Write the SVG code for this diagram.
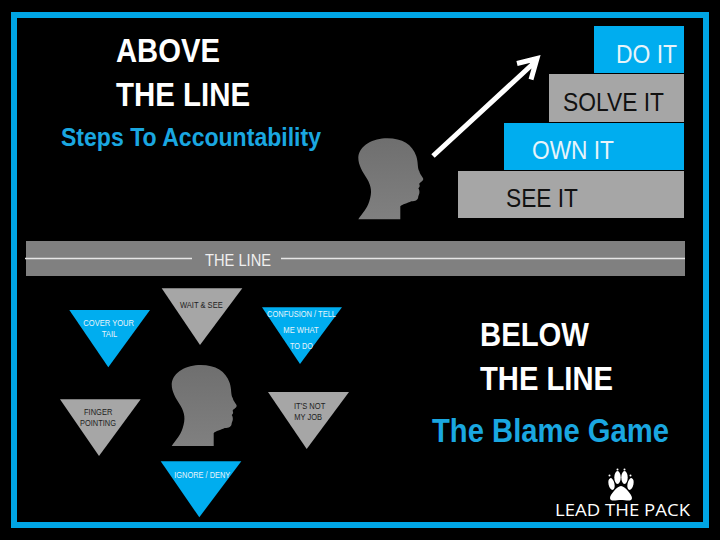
<svg xmlns="http://www.w3.org/2000/svg" width="720" height="540" viewBox="0 0 720 540">
<style>
text{font-family:"Liberation Sans",Arial,sans-serif}
.h{font-weight:700;font-size:33px;fill:#fff}
.s{font-size:26px}
.t{font-size:9px}
.blue{fill:#00adef}.gray{fill:#a6a6a6}
.w{fill:#e8f4fa}.k{fill:#111}.d{fill:#222}
.wire{stroke:#e6e6e6;stroke-width:1.5;fill:none}
</style>
<defs>
<linearGradient id="hg" x1="0" y1="0" x2="0" y2="1"><stop offset="0" stop-color="#6f6f6f"/><stop offset="1" stop-color="#808080"/></linearGradient>
<path id="head" fill="url(#hg)" d="M0 81C4 75 9 70 11 63C14 54 13 48 9 41C4 33 0 27 0 19C1 7 15 0 29 0C44 0 54 6 58 18C60 24 59 30 61 33C62 37 65 39 65 41C64 44 61 44 61 46C62 48 61 49 60 50C62 53 61 56 60 58C60 62 57 63 53 63C49 65 44 66 42 68C42 72 42 77 42 81Z"/>
</defs>
<rect width="720" height="540" fill="#000"/>
<rect x="14" y="15" width="692" height="510" fill="none" stroke="#00a6e6" stroke-width="6"/>

<g id="title-above">
<text class="h" x="116" y="62" textLength="104" lengthAdjust="spacingAndGlyphs">ABOVE</text>
<text class="h" x="116" y="106" textLength="134" lengthAdjust="spacingAndGlyphs">THE LINE</text>
<text x="61" y="146" font-size="25" font-weight="700" fill="#1aa7e0" textLength="260" lengthAdjust="spacingAndGlyphs">Steps To Accountability</text>
</g>
<g id="step-see"><rect class="gray" x="458" y="171" width="226" height="47"/><text class="s k" x="506" y="207" textLength="72" lengthAdjust="spacingAndGlyphs">SEE IT</text></g>
<g id="step-own"><rect class="blue" x="504" y="123" width="180" height="47"/><text class="s w" x="532" y="158.500" textLength="82" lengthAdjust="spacingAndGlyphs">OWN IT</text></g>
<g id="step-solve"><rect class="gray" x="549" y="74" width="135" height="48"/><text class="s k" x="563" y="111" textLength="101" lengthAdjust="spacingAndGlyphs">SOLVE IT</text></g>
<g id="step-do"><rect class="blue" x="594" y="26" width="90" height="47"/><text class="s w" x="616" y="62.500" textLength="61" lengthAdjust="spacingAndGlyphs">DO IT</text></g>
<g id="head-top"><use href="#head" x="358.3" y="138.3"/></g>
<g id="connectors">
<path d="M433 156L536 61M517 63.500L537 58.500L531 79.500" fill="none" stroke="#fff" stroke-width="5"/>
</g>
<g id="the-line">
<rect x="26" y="241" width="659" height="35" fill="#808080"/>
<path class="wire" d="M25 258.500H192M281 258.500H685"/>
<text x="205" y="265.500" font-size="16" fill="#f0f0f0" textLength="66" lengthAdjust="spacingAndGlyphs">THE LINE</text>
</g>
<g id="tri-cover"><path class="blue" d="M69.300 310H150L108.300 367.300Z"/><text class="t w" x="83.300" y="326.300" textLength="50.700" lengthAdjust="spacingAndGlyphs">COVER YOUR</text><text class="t w" x="101.700" y="336.700" textLength="15.600" lengthAdjust="spacingAndGlyphs">TAIL</text></g>
<g id="tri-wait"><path class="gray" d="M161.700 288.300H242.300L200 345Z"/><text class="t d" x="180" y="308" textLength="42.700" lengthAdjust="spacingAndGlyphs">WAIT &amp; SEE</text></g>
<g id="tri-confusion"><path class="blue" d="M262 307.300H342L300 364Z"/><text class="t w" x="267" y="317" textLength="69" lengthAdjust="spacingAndGlyphs">CONFUSION / TELL</text><text class="t w" x="283.300" y="333" textLength="35.400" lengthAdjust="spacingAndGlyphs">ME WHAT</text><text class="t w" x="290" y="349" textLength="23" lengthAdjust="spacingAndGlyphs">TO DO</text></g>
<g id="tri-finger"><path class="gray" d="M60 399.300H140.700L99 456Z"/><text class="t d" x="84" y="415" textLength="28.300" lengthAdjust="spacingAndGlyphs">FINGER</text><text class="t d" x="80" y="426" textLength="36" lengthAdjust="spacingAndGlyphs">POINTING</text></g>
<g id="tri-job"><path class="gray" d="M268 392H349L306.700 449Z"/><text class="t d" x="294" y="409.300" textLength="31.300" lengthAdjust="spacingAndGlyphs">IT'S NOT</text><text class="t d" x="294.300" y="420" textLength="27.700" lengthAdjust="spacingAndGlyphs">MY JOB</text></g>
<g id="tri-ignore"><path class="blue" d="M160.700 461.300H241.300L199.300 517.300Z"/><text class="t w" x="174.300" y="478.300" textLength="56" lengthAdjust="spacingAndGlyphs">IGNORE / DENY</text></g>
<g id="head-bottom"><use href="#head" x="171.700" y="365"/></g>
<g id="title-below">
<text class="h" x="480" y="346" textLength="109" lengthAdjust="spacingAndGlyphs">BELOW</text>
<text class="h" x="480" y="390" textLength="133" lengthAdjust="spacingAndGlyphs">THE LINE</text>
<text x="432" y="442" font-size="33" font-weight="700" fill="#1aa7e0" textLength="237" lengthAdjust="spacingAndGlyphs">The Blame Game</text>
</g>
<g id="logo" fill="#fff">
<ellipse cx="611.500" cy="484" rx="3" ry="6" transform="rotate(-12 611.500 484)"/>
<ellipse cx="617.500" cy="477.500" rx="3.200" ry="6.500"/>
<ellipse cx="624.500" cy="477.500" rx="3.200" ry="6.500"/>
<ellipse cx="630.500" cy="484" rx="3" ry="6" transform="rotate(12 630.500 484)"/>
<path d="M621 486C625 486 632 495 632 498C632 502 626 500 621 500C616 500 610 502 610 498C610 495 617 486 621 486Z"/>
<circle cx="617.500" cy="469.500" r="1"/><circle cx="624.500" cy="469.500" r="1"/><circle cx="609.500" cy="475.500" r="1"/><circle cx="630.500" cy="475.500" r="1"/>
<text x="555" y="516" font-size="15.500" style="font-family:'Open Sans','Liberation Sans',sans-serif" textLength="135" lengthAdjust="spacingAndGlyphs">LEAD THE PACK</text>
</g>
</svg>
